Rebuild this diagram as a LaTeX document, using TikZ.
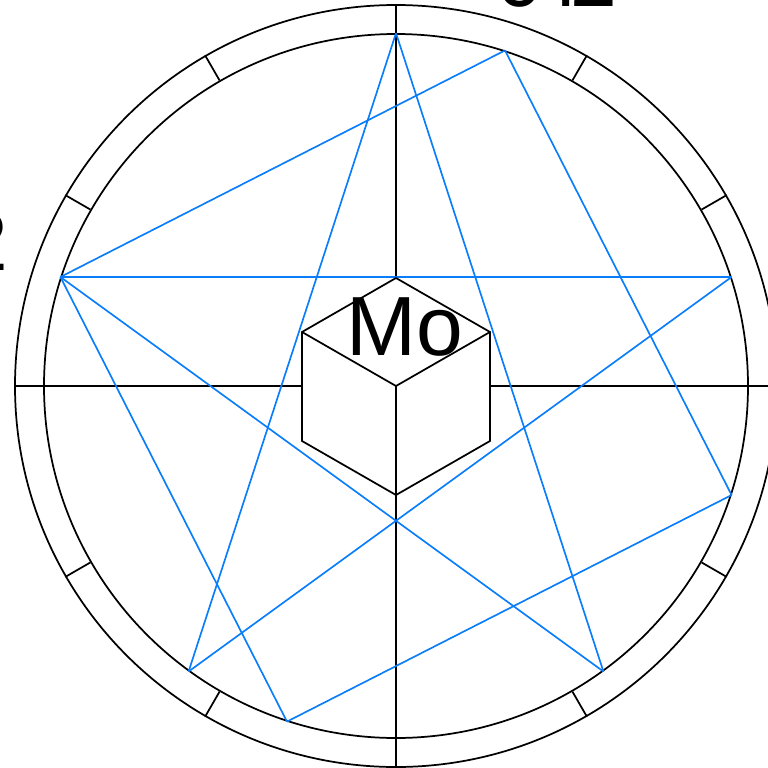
\documentclass[tikz,border=0pt]{standalone}
\usepackage{fontspec}
\setmainfont{Liberation Sans}
\usetikzlibrary{positioning,calc}
\definecolor{fanblue}{RGB}{10,125,250}
\tikzset{
  ringline/.style={draw=black,line width=1.3pt},
  fanline/.style={draw=fanblue,line width=1.25pt},
  cubeline/.style={draw=black,line width=1.3pt,line join=miter},
  biglabel/.style={inner sep=0pt,font=\fontsize{63}{63}\selectfont,text=black}
}
\begin{document}
\begin{tikzpicture}[x=0.75pt,y=-0.75pt]
  \useasboundingbox (0,0) rectangle (768,768);
  \clip (0,0) rectangle (768,768);

  %% Rings
  \coordinate (O) at (396,386);
  \node[circle,ringline,minimum size=762*0.75pt,inner sep=0pt] (outer) at (O) {};
  \node[circle,ringline,minimum size=704*0.75pt,inner sep=0pt] (inner) at (O) {};

  %% Ticks
  \foreach \ang in {30,60,120,150,210,240,300,330}
    \draw[ringline] (inner.\ang) -- (outer.\ang);

  %% Axes
  \draw[ringline] (outer.west) -- (outer.east);
  \draw[ringline] (outer.north) -- (outer.south);

  %% Points on the inner ring
  \foreach \name/\ang in {a/90,b/72,c/18,d/-18,e/-54,f/-108,g/-126,h/162}
    \coordinate (\name) at (inner.\ang);

  %% Blue lines
  \draw[fanline] (a) -- (e);
  \draw[fanline] (a) -- (g);
  \draw[fanline] (b) -- (h);
  \draw[fanline] (b) -- (d);
  \draw[fanline] (h) -- (c);
  \draw[fanline] (h) -- (e);
  \draw[fanline] (h) -- (f);
  \draw[fanline] (c) -- (g);
  \draw[fanline] (d) -- (f);

  %% Cube
  \coordinate (top) at (396,278);
  \coordinate (ur) at (490,332);
  \coordinate (lr) at (490,441);
  \coordinate (bot) at (396,495);
  \coordinate (ll) at (302,441);
  \coordinate (ul) at (302,332);
  \coordinate (mid) at (396,386);
  \filldraw[cubeline,fill=white] (top) -- (ur) -- (lr) -- (bot) -- (ll) -- (ul) -- cycle;
  \draw[cubeline] (ul) -- (mid) -- (ur);
  \draw[cubeline] (mid) -- (bot);

  %% Labels
  \node[biglabel,anchor=base] (mo) at (405,355) {Mo};
  \node[biglabel,anchor=base] (code) at (557,6) {0\kern-7.5pt 4\kern-7.5pt 2};
  \node[biglabel,anchor=base east] (side) at (8,270) {2};
\end{tikzpicture}
\end{document}
